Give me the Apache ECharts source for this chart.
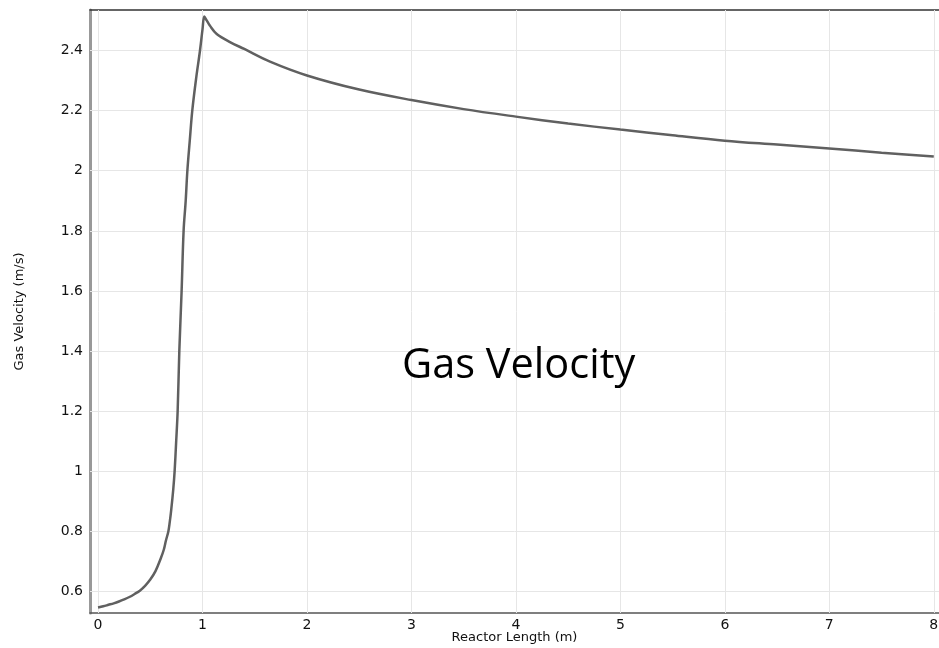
<!DOCTYPE html>
<html>
<head>
<meta charset="utf-8">
<script src="https://cdn.jsdelivr.net/npm/echarts@6/dist/echarts.min.js"></script>
<style>html,body{margin:0;padding:0;background:#fff}#c{width:939px;height:648px}</style>
</head>
<body>
<div id="c"></div>
<script>
var lengthM = [0, 0.05, 0.1, 0.15, 0.2, 0.25, 0.3, 0.35, 0.4, 0.45, 0.5, 0.55, 0.6, 0.63, 0.65, 0.673, 0.686, 0.7, 0.72, 0.733, 0.748, 0.762, 0.778, 0.8, 0.819, 0.839, 0.855, 0.878, 0.902, 0.94, 0.976, 1.0, 1.017, 1.04, 1.07, 1.136, 1.263, 1.4, 1.646, 2, 2.5, 3, 3.5, 4, 4.5, 5, 5.5, 6, 6.5, 7, 7.5, 8];
var velocity = [0.547, 0.551, 0.556, 0.561, 0.567, 0.574, 0.582, 0.592, 0.603, 0.619, 0.64, 0.668, 0.71, 0.74, 0.77, 0.8, 0.83, 0.87, 0.94, 1.0, 1.1, 1.2, 1.4, 1.6, 1.8, 1.9, 2.0, 2.1, 2.2, 2.31, 2.4, 2.47, 2.513, 2.5, 2.483, 2.455, 2.428, 2.405, 2.363, 2.317, 2.27, 2.235, 2.205, 2.18, 2.157, 2.137, 2.118, 2.10, 2.087, 2.074, 2.06, 2.047];
var xTicks = [0, 1, 2, 3, 4, 5, 6, 7, 8];
var yTicks = [0.6, 0.8, 1, 1.2, 1.4, 1.6, 1.8, 2, 2.2, 2.4];
var chartTitle = 'Gas Velocity';
var xName = 'Reactor Length (m)';
var yName = 'Gas Velocity (m/s)';

var pts = lengthM.map(function (x, i) { return [x, velocity[i]]; });
var chart = echarts.init(document.getElementById('c'), null, {renderer: 'canvas'});
var labelFont = {fontFamily: 'DejaVu Sans', fontSize: 14, color: '#111'};
chart.setOption({
  animation: false,
  backgroundColor: '#fff',
  grid: {left: 90, right: 0, top: 10, bottom: 35, containLabel: false, outerBoundsMode: 'none'},
  xAxis: [{
    type: 'value', min: -0.077, max: 8.05,
    name: xName, nameLocation: 'middle', nameGap: 18, nameMoveOverlap: false,
    nameTextStyle: {fontFamily: 'DejaVu Sans', fontSize: 13, color: '#111'},
    axisLine: {show: true, onZero: false, lineStyle: {color: '#555', width: 1.5}},
    axisTick: {show: true, inside: true, length: 5, customValues: xTicks, lineStyle: {color: '#555'}},
    axisLabel: Object.assign({margin: 5, customValues: xTicks}, labelFont),
    splitLine: {show: false}
  }, {
    type: 'value', position: 'top', min: -0.077, max: 8.05,
    axisLine: {show: true, onZero: false, lineStyle: {color: '#333', width: 1.5}},
    axisTick: {show: true, inside: true, length: 5, customValues: xTicks, lineStyle: {color: '#333'}},
    axisLabel: {show: false, customValues: xTicks},
    splitLine: {show: false}
  }],
  yAxis: {
    type: 'value', min: 0.5288, max: 2.5347,
    name: yName, nameLocation: 'middle', nameGap: 64, nameMoveOverlap: false,
    nameTextStyle: {fontFamily: 'DejaVu Sans', fontSize: 13, color: '#111'},
    axisLine: {show: true, onZero: false, lineStyle: {color: '#999', width: 3}},
    axisTick: {show: true, inside: true, length: 6, customValues: yTicks, lineStyle: {color: '#777'}},
    axisLabel: Object.assign({margin: 7, customValues: yTicks}, labelFont),
    splitLine: {show: false}
  },
  graphic: [{
    type: 'text', left: 402, top: 345, z: 100,
    style: {text: chartTitle, font: '41.5px "Open Sans"', fill: '#000'}
  }],
  series: [{
    type: 'line', data: pts, showSymbol: false, smooth: 0.35, z: 3,
    lineStyle: {color: '#606060', width: 2.5}, clip: true,
    markLine: {
      silent: true, symbol: ['none', 'none'], z: 1, label: {show: false},
      lineStyle: {type: 'solid', color: '#e6e6e6', width: 1},
      emphasis: {disabled: true},
      data: xTicks.map(function (v) { return {xAxis: v}; }).concat(yTicks.map(function (v) { return {yAxis: v}; }))
    }
  }]
});
</script>
</body>
</html>
